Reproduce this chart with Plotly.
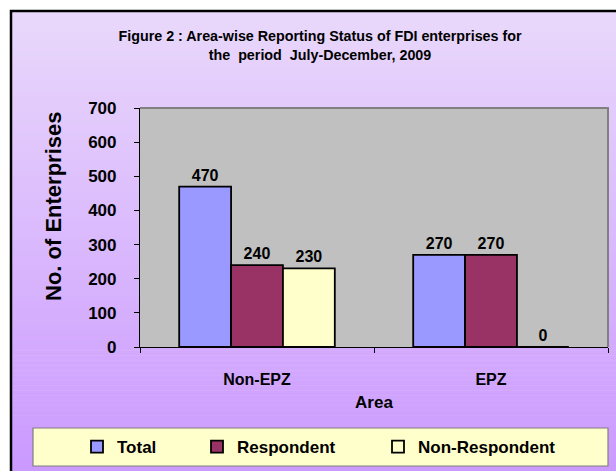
import plotly.graph_objects as go

categories = ["Non-EPZ", "EPZ"]
total = [470, 270]
respondent = [240, 270]
non_respondent = [230, 0]
series_names = ["Total", "Respondent", "Non-Respondent"]
y_ticks = [0, 100, 200, 300, 400, 500, 600, 700]

W, H = 616, 471
L, R, T, B = 140, 8, 108, 124
PW, PH = W - L - R, H - T - B

def px(xp):
    return (xp - L) / PW

def py(yp):
    return (H - B - yp) / PH

FONT = "Liberation Sans, Arial, sans-serif"
colors = ["#9999FF", "#993366", "#FFFFCC"]
values = [total, respondent, non_respondent]

fig = go.Figure()
legends = ["legend", "legend2", "legend3"]
for name, vals, col, lg in zip(series_names, values, colors, legends):
    fig.add_trace(go.Bar(
        x=categories, y=vals, name=name,
        marker=dict(color=col, line=dict(color="black", width=1.8)),
        text=[str(v) for v in vals], textposition="outside", texttemplate="%{y}",
        textfont=dict(family=FONT, size=16, color="black", weight="bold"),
        cliponaxis=False, legend=lg, showlegend=True,
    ))

shapes = []
top_c = (233, 216, 251)
bot_c = (203, 153, 255)
y_start, y_end = 11, 475
n = 93
for i in range(n):
    a = y_start + (y_end - y_start) * i / n
    b = y_start + (y_end - y_start) * (i + 1) / n
    t = i / (n - 1)
    c = tuple(round(top_c[k] + (bot_c[k] - top_c[k]) * t) for k in range(3))
    shapes.append(dict(type="rect", xref="paper", yref="paper",
                       x0=px(11), x1=px(620), y0=py(b + 0.6), y1=py(a),
                       fillcolor="rgb(%d,%d,%d)" % c, line=dict(width=0), layer="below"))
shapes.append(dict(type="path", xref="paper", yref="paper",
                   path="M %f,%f L %f,%f L %f,%f" % (px(11), py(475), px(11), py(11), px(620), py(11)),
                   line=dict(color="black", width=2.5), layer="below"))
shapes.append(dict(type="rect", xref="paper", yref="paper", x0=0, x1=1, y0=0, y1=1,
                   fillcolor="#C0C0C0", line=dict(width=0), layer="below"))
shapes.append(dict(type="path", xref="paper", yref="paper",
                   path="M 0,1 L 1,1 L 1,0", line=dict(color="#808080", width=2), layer="above"))
shapes.append(dict(type="rect", xref="paper", yref="paper",
                   x0=px(33), x1=px(608), y0=py(466), y1=py(428),
                   fillcolor="#FFFFCC", line=dict(color="#7F7F7F", width=1.2), layer="below"))

leg_common = dict(orientation="h", bgcolor="rgba(0,0,0,0)", borderwidth=0,
                  font=dict(family=FONT, size=17, color="black", weight="bold"),
                  xanchor="left", yanchor="middle", itemwidth=30)
leg_x = [77, 197, 378]

fig.update_layout(
    width=W, height=H,
    margin=dict(l=L, r=R, t=T, b=B, autoexpand=False),
    paper_bgcolor="white", plot_bgcolor="#C0C0C0",
    barmode="group", bargap=0.335, bargroupgap=0,
    font=dict(family=FONT, color="black"),
    showlegend=True,
    title=dict(text="Figure 2 : Area-wise Reporting Status of FDI enterprises for<br>the  period  July-December, 2009",
               x=px(320), xanchor="center", xref="paper", y=1 - 41 / H, yanchor="middle",
               font=dict(family=FONT, size=14.3, color="black", weight="bold")),
    xaxis=dict(showline=True, linecolor="black", linewidth=1.2, ticks="outside",
               ticklen=5, tickcolor="black", tickson="boundaries",
               tickfont=dict(family=FONT, size=16, color="black", weight="bold"),
               ticklabelstandoff=18,
               title=dict(text="Area", font=dict(family=FONT, size=17, weight="bold"), standoff=8),
               showgrid=False),
    yaxis=dict(range=[0, 700], tickvals=y_ticks, showline=True, linecolor="black", linewidth=1.2,
               ticks="outside", ticklen=5, tickcolor="black", showgrid=False, zeroline=False,
               tickfont=dict(family=FONT, size=17, color="black", weight="bold"), ticklabelstandoff=14),
    annotations=[dict(text="No. of Enterprises", textangle=-90, xref="paper", yref="paper",
                      x=px(53), y=py(207), xanchor="center", yanchor="middle", showarrow=False,
                      font=dict(family=FONT, size=22, color="black", weight="bold"))],
    shapes=shapes,
    legend=dict(**leg_common, x=px(leg_x[0]), y=py(447)),
    legend2=dict(**leg_common, x=px(leg_x[1]), y=py(447)),
    legend3=dict(**leg_common, x=px(leg_x[2]), y=py(447)),
)
fig.write_html("out.html", config={"displayModeBar": False},
               post_script="document.body.style.margin='0';document.body.style.padding='0';")
